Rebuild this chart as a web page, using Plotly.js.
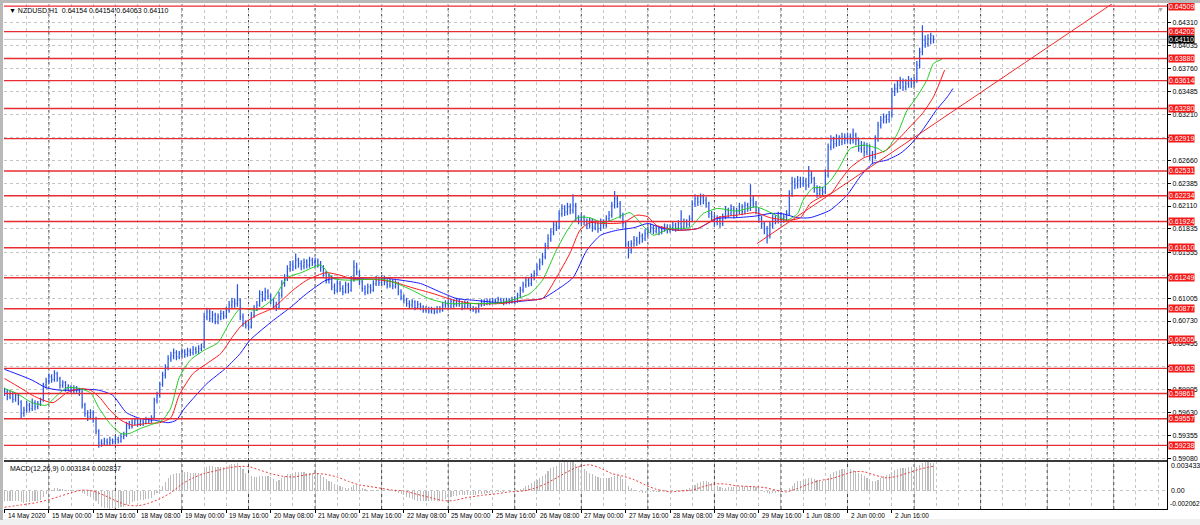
<!DOCTYPE html>
<html><head><meta charset="utf-8">
<script src="https://cdn.plot.ly/plotly-3.0.1.min.js"></script>
<style>
html,body{margin:0;padding:0;background:#f0f0f0;width:1200px;height:525px;overflow:hidden}
#fTop{position:absolute;left:0;top:0;width:1200px;height:3px;background:#b9b9b9}
#fLeft{position:absolute;left:0;top:0;width:3px;height:520px;background:#b9b9b9}
#chart{position:absolute;left:3px;top:3px;width:1197px;height:516px}
</style></head>
<body><div id="fTop"></div><div id="fLeft"></div><div id="chart"></div>
<script>
// ---------- DATA ----------
const symbolName = "NZDUSD,H1";
const timeLabels = ["14 May 2020","15 May 00:00","15 May 16:00","18 May 08:00","19 May 00:00","19 May 16:00","20 May 08:00","21 May 00:00","21 May 16:00","22 May 08:00","25 May 00:00","25 May 16:00","26 May 08:00","27 May 00:00","27 May 16:00","28 May 08:00","29 May 00:00","29 May 16:00","1 Jun 08:00","2 Jun 00:00","2 Jun 16:00"];
const timeLabelBars = [0,16,32,48,64,80,96,112,128,144,160,176,192,208,224,240,256,272,288,304,320];
const dayStartBars = [16,40,64,88,112,136,160,184,208,232,256,280,304,328,352,376,400];

const opens = [0.5990,0.5988,0.5982,0.5986,0.5979,0.5984,0.5976,0.5962,0.5966,0.5972,
0.5968,0.5975,0.5970,0.5974,0.5978,0.5996,0.6001,0.6006,0.6003,0.6010,
0.6004,0.5996,0.5999,0.5992,0.5994,0.5989,0.5993,0.5990,0.5988,0.5972,
0.5962,0.5958,0.5963,0.5956,0.5941,0.5927,0.5926,0.5929,0.5927,0.5930,
0.5928,0.5931,0.5929,0.5934,0.5936,0.5948,0.5946,0.5951,0.5954,0.5950,
0.5953,0.5951,0.5955,0.5953,0.5957,0.5978,0.5984,0.5997,0.6008,0.6017,
0.6028,0.6031,0.6035,0.6030,0.6034,0.6036,0.6033,0.6037,0.6035,0.6039,
0.6036,0.6040,0.6042,0.6078,0.6084,0.6076,0.6080,0.6072,0.6078,0.6082,
0.6079,0.6086,0.6092,0.6096,0.6094,0.6098,0.6078,0.6070,0.6068,0.6066,
0.6080,0.6088,0.6092,0.6105,0.6100,0.6108,0.6103,0.6098,0.6092,0.6089,
0.6104,0.6118,0.6124,0.6136,0.6140,0.6138,0.6146,0.6142,0.6139,0.6144,
0.6140,0.6146,0.6143,0.6145,0.6141,0.6137,0.6130,0.6122,0.6126,0.6114,
0.6110,0.6118,0.6112,0.6108,0.6116,0.6110,0.6122,0.6138,0.6132,0.6120,
0.6112,0.6108,0.6114,0.6110,0.6118,0.6122,0.6119,0.6124,0.6120,0.6116,
0.6121,0.6115,0.6118,0.6108,0.6102,0.6098,0.6094,0.6092,0.6096,0.6089,
0.6093,0.6090,0.6086,0.6088,0.6085,0.6087,0.6084,0.6088,0.6086,0.6092,
0.6094,0.6091,0.6096,0.6093,0.6098,0.6094,0.6090,0.6095,0.6092,0.6088,
0.6087,0.6085,0.6092,0.6096,0.6094,0.6097,0.6095,0.6098,0.6096,0.6099,
0.6097,0.6095,0.6098,0.6096,0.6099,0.6097,0.6104,0.6110,0.6116,0.6122,
0.6118,0.6126,0.6130,0.6138,0.6144,0.6150,0.6163,0.6172,0.6180,0.6188,
0.6186,0.6202,0.6208,0.6204,0.6210,0.6206,0.6212,0.6196,0.6193,0.6197,
0.6192,0.6188,0.6194,0.6186,0.6190,0.6184,0.6192,0.6188,0.6196,0.6200,
0.6212,0.6220,0.6214,0.6200,0.6190,0.6165,0.6158,0.6166,0.6170,0.6168,
0.6175,0.6172,0.6178,0.6182,0.6185,0.6181,0.6184,0.6180,0.6183,0.6186,
0.6182,0.6185,0.6188,0.6184,0.6190,0.6186,0.6192,0.6189,0.6196,0.6214,
0.6220,0.6216,0.6222,0.6218,0.6214,0.6202,0.6198,0.6192,0.6196,0.6190,
0.6198,0.6206,0.6202,0.6208,0.6200,0.6205,0.6210,0.6204,0.6212,0.6208,
0.6218,0.6214,0.6206,0.6196,0.6190,0.6184,0.6176,0.6188,0.6196,0.6194,
0.6199,0.6195,0.6198,0.6202,0.6226,0.6240,0.6236,0.6242,0.6238,0.6241,
0.6236,0.6248,0.6244,0.6232,0.6226,0.6230,0.6228,0.6248,0.6282,0.6290,
0.6286,0.6292,0.6288,0.6294,0.6290,0.6294,0.6290,0.6296,0.6290,0.6280,
0.6284,0.6276,0.6282,0.6272,0.6270,0.6292,0.6308,0.6314,0.6318,0.6315,
0.6320,0.6348,0.6352,0.6356,0.6360,0.6354,0.6358,0.6362,0.6358,0.6362,
0.6380,0.6396,0.6410,0.6406,0.6412,0.64154];

const highs = [0.5993,0.5991,0.5990,0.5988,0.5987,0.5986,0.5978,0.5970,0.5977,0.5975,
0.5980,0.5978,0.5977,0.5981,0.5999,0.6005,0.6010,0.6009,0.6014,0.6012,
0.6006,0.6002,0.6001,0.5997,0.5996,0.5996,0.5995,0.5993,0.5990,0.5975,
0.5966,0.5967,0.5966,0.5958,0.5943,0.5931,0.5933,0.5932,0.5934,0.5932,
0.5935,0.5934,0.5938,0.5940,0.5952,0.5953,0.5955,0.5957,0.5956,0.5956,
0.5955,0.5958,0.5957,0.5960,0.5981,0.5988,0.6000,0.6012,0.6021,0.6032,
0.6036,0.6040,0.6038,0.6037,0.6040,0.6039,0.6041,0.6040,0.6043,0.6042,
0.6044,0.6046,0.6083,0.6089,0.6087,0.6085,0.6083,0.6082,0.6086,0.6085,
0.6090,0.6097,0.6101,0.6100,0.6117,0.6100,0.6082,0.6074,0.6072,0.6084,
0.6092,0.6097,0.6110,0.6109,0.6113,0.6111,0.6106,0.6101,0.6096,0.6108,
0.6122,0.6129,0.6140,0.6145,0.6146,0.6154,0.6149,0.6146,0.6148,0.6147,
0.6150,0.6149,0.6149,0.6148,0.6145,0.6140,0.6133,0.6130,0.6128,0.6118,
0.6122,0.6121,0.6116,0.6120,0.6119,0.6127,0.6146,0.6143,0.6134,0.6123,
0.6116,0.6118,0.6117,0.6122,0.6127,0.6126,0.6128,0.6127,0.6123,0.6125,
0.6123,0.6122,0.6120,0.6111,0.6105,0.6101,0.6098,0.6099,0.6098,0.6097,
0.6095,0.6092,0.6091,0.6090,0.6090,0.6089,0.6091,0.6091,0.6096,0.6098,
0.6099,0.6100,0.6099,0.6101,0.6100,0.6097,0.6098,0.6097,0.6094,0.6091,
0.6090,0.6095,0.6099,0.6099,0.6100,0.6100,0.6101,0.6100,0.6102,0.6101,
0.6100,0.6101,0.6100,0.6102,0.6102,0.6107,0.6114,0.6120,0.6126,0.6125,
0.6130,0.6134,0.6142,0.6148,0.6155,0.6167,0.6177,0.6184,0.6192,0.6193,
0.6206,0.6213,0.6212,0.6215,0.6214,0.6225,0.6215,0.6200,0.6201,0.6200,
0.6196,0.6197,0.6196,0.6194,0.6193,0.6196,0.6195,0.6200,0.6205,0.6216,
0.6229,0.6224,0.6217,0.6203,0.6192,0.6169,0.6170,0.6175,0.6174,0.6180,
0.6178,0.6183,0.6186,0.6190,0.6188,0.6188,0.6187,0.6187,0.6190,0.6189,
0.6189,0.6192,0.6191,0.6194,0.6206,0.6196,0.6195,0.6200,0.6218,0.6225,
0.6224,0.6226,0.6225,0.6222,0.6216,0.6205,0.6201,0.6200,0.6199,0.6202,
0.6211,0.6209,0.6213,0.6211,0.6209,0.6215,0.6213,0.6216,0.6215,0.6237,
0.6224,0.6217,0.6209,0.6199,0.6193,0.6187,0.6192,0.6201,0.6200,0.6204,
0.6203,0.6202,0.6206,0.6230,0.6246,0.6245,0.6247,0.6246,0.6246,0.6245,
0.6259,0.6253,0.6246,0.6236,0.6235,0.6234,0.6255,0.6286,0.6296,0.6294,
0.6297,0.6296,0.6299,0.6298,0.6299,0.6298,0.6304,0.6299,0.6293,0.6289,
0.6288,0.6287,0.6285,0.6277,0.6296,0.6312,0.6319,0.6322,0.6321,0.6325,
0.6353,0.6358,0.6362,0.6366,0.6364,0.6363,0.6367,0.6365,0.6366,0.6385,
0.6401,0.6428,0.6416,0.6417,0.6419,0.64154];

const lows = [0.5983,0.5978,0.5979,0.5975,0.5976,0.5972,0.5956,0.5958,0.5963,0.5964,
0.5965,0.5966,0.5967,0.5971,0.5976,0.5992,0.5997,0.5999,0.6000,0.6000,
0.5992,0.5993,0.5988,0.5989,0.5986,0.5986,0.5987,0.5983,0.5968,0.5958,
0.5953,0.5955,0.5951,0.5937,0.5921,0.5922,0.5923,0.5924,0.5924,0.5925,
0.5925,0.5926,0.5927,0.5931,0.5934,0.5943,0.5944,0.5948,0.5946,0.5947,
0.5947,0.5949,0.5950,0.5951,0.5955,0.5974,0.5981,0.5994,0.6004,0.6014,
0.6024,0.6027,0.6026,0.6027,0.6030,0.6029,0.6030,0.6031,0.6032,0.6033,
0.6033,0.6037,0.6040,0.6074,0.6072,0.6071,0.6069,0.6069,0.6074,0.6075,
0.6076,0.6083,0.6088,0.6089,0.6090,0.6074,0.6066,0.6064,0.6062,0.6064,
0.6077,0.6085,0.6090,0.6096,0.6097,0.6099,0.6093,0.6087,0.6085,0.6087,
0.6101,0.6114,0.6121,0.6132,0.6133,0.6135,0.6137,0.6134,0.6135,0.6136,
0.6137,0.6139,0.6138,0.6137,0.6132,0.6126,0.6118,0.6118,0.6110,0.6105,
0.6107,0.6108,0.6104,0.6106,0.6106,0.6108,0.6120,0.6128,0.6116,0.6108,
0.6104,0.6105,0.6106,0.6108,0.6115,0.6115,0.6116,0.6116,0.6112,0.6113,
0.6111,0.6112,0.6104,0.6098,0.6094,0.6090,0.6088,0.6089,0.6086,0.6087,
0.6086,0.6083,0.6083,0.6082,0.6082,0.6081,0.6082,0.6083,0.6084,0.6089,
0.6087,0.6088,0.6089,0.6090,0.6090,0.6086,0.6087,0.6088,0.6085,0.6084,
0.6082,0.6083,0.6090,0.6091,0.6092,0.6092,0.6093,0.6093,0.6094,0.6094,
0.6092,0.6093,0.6093,0.6094,0.6094,0.6095,0.6101,0.6107,0.6113,0.6114,
0.6115,0.6122,0.6127,0.6134,0.6140,0.6147,0.6159,0.6168,0.6176,0.6181,
0.6183,0.6198,0.6199,0.6200,0.6201,0.6202,0.6192,0.6189,0.6189,0.6188,
0.6183,0.6184,0.6180,0.6182,0.6179,0.6181,0.6184,0.6185,0.6192,0.6197,
0.6208,0.6209,0.6196,0.6185,0.6160,0.6148,0.6154,0.6162,0.6163,0.6165,
0.6167,0.6169,0.6175,0.6179,0.6177,0.6178,0.6176,0.6177,0.6180,0.6178,
0.6179,0.6181,0.6180,0.6181,0.6182,0.6183,0.6185,0.6186,0.6193,0.6210,
0.6211,0.6212,0.6213,0.6209,0.6197,0.6193,0.6186,0.6188,0.6185,0.6187,
0.6195,0.6197,0.6199,0.6196,0.6197,0.6201,0.6200,0.6201,0.6204,0.6205,
0.6209,0.6201,0.6191,0.6184,0.6177,0.6166,0.6172,0.6184,0.6189,0.6190,
0.6190,0.6191,0.6193,0.6199,0.6222,0.6231,0.6232,0.6233,0.6234,0.6230,
0.6233,0.6238,0.6227,0.6221,0.6222,0.6223,0.6225,0.6245,0.6278,0.6280,
0.6282,0.6283,0.6284,0.6285,0.6286,0.6285,0.6286,0.6284,0.6276,0.6275,
0.6270,0.6272,0.6266,0.6261,0.6267,0.6288,0.6304,0.6310,0.6310,0.6311,
0.6317,0.6343,0.6347,0.6351,0.6349,0.6350,0.6353,0.6353,0.6354,0.6359,
0.6376,0.6392,0.6401,0.6402,0.6405,0.64063];

const closes = [0.5988,0.5982,0.5986,0.5979,0.5984,0.5976,0.5962,0.5966,0.5972,0.5968,
0.5975,0.5970,0.5974,0.5978,0.5996,0.6001,0.6006,0.6003,0.6010,0.6004,
0.5996,0.5999,0.5992,0.5994,0.5989,0.5993,0.5990,0.5988,0.5972,0.5962,
0.5958,0.5963,0.5956,0.5941,0.5927,0.5926,0.5929,0.5927,0.5930,0.5928,
0.5931,0.5929,0.5934,0.5936,0.5948,0.5946,0.5951,0.5954,0.5950,0.5953,
0.5951,0.5955,0.5953,0.5957,0.5978,0.5984,0.5997,0.6008,0.6017,0.6028,
0.6031,0.6035,0.6030,0.6034,0.6036,0.6033,0.6037,0.6035,0.6039,0.6036,
0.6040,0.6042,0.6078,0.6084,0.6076,0.6080,0.6072,0.6078,0.6082,0.6079,
0.6086,0.6092,0.6096,0.6094,0.6098,0.6078,0.6070,0.6068,0.6066,0.6080,
0.6088,0.6092,0.6105,0.6100,0.6108,0.6103,0.6098,0.6092,0.6089,0.6104,
0.6118,0.6124,0.6136,0.6140,0.6138,0.6146,0.6142,0.6139,0.6144,0.6140,
0.6146,0.6143,0.6145,0.6141,0.6137,0.6130,0.6122,0.6126,0.6114,0.6110,
0.6118,0.6112,0.6108,0.6116,0.6110,0.6122,0.6138,0.6132,0.6120,0.6112,
0.6108,0.6114,0.6110,0.6118,0.6122,0.6119,0.6124,0.6120,0.6116,0.6121,
0.6115,0.6118,0.6108,0.6102,0.6098,0.6094,0.6092,0.6096,0.6089,0.6093,
0.6090,0.6086,0.6088,0.6085,0.6087,0.6084,0.6088,0.6086,0.6092,0.6094,
0.6091,0.6096,0.6093,0.6098,0.6094,0.6090,0.6095,0.6092,0.6088,0.6087,
0.6085,0.6092,0.6096,0.6094,0.6097,0.6095,0.6098,0.6096,0.6099,0.6097,
0.6095,0.6098,0.6096,0.6099,0.6097,0.6104,0.6110,0.6116,0.6122,0.6118,
0.6126,0.6130,0.6138,0.6144,0.6150,0.6163,0.6172,0.6180,0.6188,0.6186,
0.6202,0.6208,0.6204,0.6210,0.6206,0.6212,0.6196,0.6193,0.6197,0.6192,
0.6188,0.6194,0.6186,0.6190,0.6184,0.6192,0.6188,0.6196,0.6200,0.6212,
0.6220,0.6214,0.6200,0.6190,0.6165,0.6158,0.6166,0.6170,0.6168,0.6175,
0.6172,0.6178,0.6182,0.6185,0.6181,0.6184,0.6180,0.6183,0.6186,0.6182,
0.6185,0.6188,0.6184,0.6190,0.6186,0.6192,0.6189,0.6196,0.6214,0.6220,
0.6216,0.6222,0.6218,0.6214,0.6202,0.6198,0.6192,0.6196,0.6190,0.6198,
0.6206,0.6202,0.6208,0.6200,0.6205,0.6210,0.6204,0.6212,0.6208,0.6218,
0.6214,0.6206,0.6196,0.6190,0.6184,0.6176,0.6188,0.6196,0.6194,0.6199,
0.6195,0.6198,0.6202,0.6226,0.6240,0.6236,0.6242,0.6238,0.6241,0.6236,
0.6248,0.6244,0.6232,0.6226,0.6230,0.6228,0.6248,0.6282,0.6290,0.6286,
0.6292,0.6288,0.6294,0.6290,0.6294,0.6290,0.6296,0.6290,0.6280,0.6284,
0.6276,0.6282,0.6272,0.6270,0.6292,0.6308,0.6314,0.6318,0.6315,0.6320,
0.6348,0.6352,0.6356,0.6360,0.6354,0.6358,0.6362,0.6358,0.6362,0.6380,
0.6396,0.6410,0.6406,0.6412,0.64154,0.64110];

// Alligator (jaw = blue, teeth = red, lips = green), read at sample bars
const jawBars = [0,5.6,10,15,20,25,30,34,39,44,49,54,59,62,64.4,68,73,80,85,88.5,97,103,109,116,121,127,135,143,150,157,163,169,179,187,194,199,205,210,215,221,227,232,237.5,243.6,250,257,264,271,276,280,286,290.5,297.7,303.8,308.5,313,318,323,326.5,331,336,340,342];
const jawVals = [0.6015,0.6008,0.6002,0.5993,0.5990,0.5990,0.5991,0.5990,0.5984,0.5963,0.5956,0.5954,0.5951,0.5954,0.5966,0.5980,0.5998,0.6017,0.6034,0.6050,0.6074,0.6089,0.6106,0.6122,0.6125,0.6124,0.6125,0.6122,0.6118,0.6108,0.6100,0.6098,0.6095,0.6097,0.6100,0.6110,0.6125,0.6158,0.6176,0.6182,0.6185,0.6190,0.6184,0.6182,0.6184,0.6196,0.6197,0.6199,0.6202,0.6202,0.6197,0.6197,0.6206,0.6224,0.6246,0.6262,0.6266,0.6274,0.6284,0.6302,0.6326,0.6342,0.6352];
const teethBars = [0,5.6,10,14,17.5,22.5,27,31,34.4,38,42,46,51,56,60,63,68,73,78,82,85,88,91,97,104,109,116,121,126,133,140,147,154.5,162,169,179,187,194,199,204,207.5,211,216,223,228,232,235,242.5,250,257,264,271,276,283,287,290.5,294,298,301,305,310,315,318,322,326.5,331,335,339];
const teethVals = [0.6004,0.5993,0.5984,0.5978,0.5975,0.5987,0.5992,0.5990,0.5981,0.5966,0.5954,0.5948,0.5950,0.5951,0.5957,0.5984,0.6010,0.6022,0.6034,0.6053,0.6066,0.6074,0.6080,0.6089,0.6110,0.6122,0.6131,0.6128,0.6123,0.6123,0.6120,0.6113,0.6106,0.6098,0.6094,0.6094,0.6098,0.6100,0.6125,0.6155,0.6182,0.6191,0.6190,0.6191,0.6200,0.6198,0.6188,0.6182,0.6184,0.6197,0.6200,0.6203,0.6197,0.6194,0.6197,0.6214,0.6221,0.6226,0.6240,0.6257,0.6269,0.6274,0.6278,0.6290,0.6306,0.6322,0.6342,0.6374];
const lipsBars = [0,4.5,10,15,19,22.5,27,31,34,38,42,45,49,54,57,60,63,67,72,77,81,85,91,97,102,107,114,118.5,125,131,136.5,141.5,147,153,160,167,174,179,185,189.5,194,199,203,206.5,211,216,221,225.6,230,234,240,247,252,257,264,271,277,282,286,288,291.6,295,298,301,305,310,315,317,319,322,325.5,329,332.6,335,338];
const lipsVals = [0.5992,0.5986,0.5975,0.5972,0.5984,0.5993,0.5992,0.5987,0.5969,0.5950,0.5938,0.5938,0.5944,0.5950,0.5954,0.5969,0.6005,0.6026,0.6038,0.6047,0.6070,0.6088,0.6086,0.6100,0.6125,0.6131,0.6140,0.6124,0.6122,0.6123,0.6123,0.6118,0.6110,0.6100,0.6094,0.6094,0.6094,0.6095,0.6100,0.6106,0.6122,0.6158,0.6182,0.6197,0.6197,0.6191,0.6197,0.6203,0.6188,0.6176,0.6184,0.6185,0.6202,0.6208,0.6205,0.6210,0.6202,0.6194,0.6202,0.6218,0.6233,0.6233,0.6242,0.6257,0.6280,0.6284,0.6280,0.6276,0.6282,0.6298,0.6326,0.6342,0.6362,0.6382,0.6387];

// MACD(12,26,9): main per bar (histogram), signal read at sample bars
const macdMain = [-0.0012,-0.0011,-0.0011,-0.0012,-0.0011,-0.0011,-0.0013,-0.0014,-0.0013,-0.0013,-0.0012,-0.0012,-0.0011,-0.0010,-0.0007,-0.0004,
-0.0001,0.0001,0.0003,0.0003,0.0002,0.0002,0.0001,0.0001,0.0001,0.0001,0.0000,0.0000,-0.0002,-0.0004,-0.0006,-0.0007,
-0.0008,-0.0011,-0.0015,-0.0018,-0.0019,-0.0020,-0.00206,-0.0020,-0.0020,-0.0019,-0.0018,-0.0018,-0.0016,-0.0015,-0.0013,-0.0012,
-0.0011,-0.0010,-0.0010,-0.0009,-0.0009,-0.0008,-0.0005,-0.0002,0.0002,0.0006,0.0010,0.0015,0.0018,0.0020,0.0021,0.0021,
0.0022,0.0022,0.0022,0.0021,0.0021,0.0021,0.0021,0.0021,0.0025,0.0028,0.0029,0.0029,0.0028,0.0028,0.0028,0.0028,
0.0029,0.0030,0.0031,0.0031,0.0032,0.0029,0.0025,0.0021,0.0018,0.0017,0.0016,0.0016,0.0017,0.0017,0.0017,0.0017,
0.0016,0.0014,0.0012,0.0013,0.0015,0.0017,0.0019,0.0020,0.0021,0.0022,0.0022,0.0022,0.0022,0.0021,0.0021,0.0021,
0.0020,0.0019,0.0018,0.0016,0.0014,0.0012,0.0010,0.0008,0.0007,0.0006,0.0005,0.0004,0.0004,0.0005,0.0007,0.0007,
0.0005,0.0003,0.0002,0.0001,0.0001,0.0001,0.0001,0.0001,0.0001,0.0001,0.0000,0.0000,0.0000,-0.0001,-0.0002,-0.0003,
-0.0005,-0.0007,-0.0008,-0.0009,-0.0010,-0.0011,-0.0011,-0.0012,-0.0012,-0.0012,-0.0012,-0.0012,-0.0012,-0.0011,-0.0010,-0.0009,
-0.0008,-0.0007,-0.0006,-0.0006,-0.0005,-0.0005,-0.0005,-0.0005,-0.0005,-0.0005,-0.0005,-0.0004,-0.0003,-0.0003,-0.0002,-0.0002,
-0.0001,-0.0001,-0.0001,-0.0001,-0.0001,0.0000,0.0000,0.0000,0.0000,0.0001,0.0002,0.0004,0.0006,0.0007,0.0009,0.0011,
0.0013,0.0015,0.0017,0.0020,0.0023,0.0026,0.0028,0.0029,0.0031,0.0032,0.0033,0.0033,0.00343,0.0034,0.0031,0.0029,
0.0027,0.0025,0.0023,0.0021,0.0019,0.0017,0.0016,0.0015,0.0015,0.0015,0.0015,0.0016,0.0017,0.0018,0.0017,0.0014,
0.0010,0.0006,0.0003,0.0001,0.0000,-0.0001,-0.0002,-0.0002,-0.0002,-0.0001,-0.0001,-0.0001,-0.0001,0.0000,0.0000,0.0000,
0.0000,0.0000,0.0000,0.0001,0.0001,0.0001,0.0002,0.0003,0.0005,0.0007,0.0009,0.0010,0.0011,0.0011,0.0010,0.0009,
0.0007,0.0006,0.0005,0.0004,0.0004,0.0005,0.0005,0.0005,0.0005,0.0006,0.0006,0.0006,0.0006,0.0006,0.0006,0.0005,
0.0003,0.0001,-0.0001,-0.0002,-0.0003,-0.0002,-0.0002,-0.0001,-0.0001,0.0000,0.0001,0.0003,0.0006,0.0009,0.0011,0.0012,
0.0013,0.0014,0.0015,0.0015,0.0014,0.0013,0.0012,0.0012,0.0013,0.0015,0.0019,0.0022,0.0023,0.0024,0.0025,0.0025,
0.0025,0.0025,0.0024,0.0023,0.0021,0.0019,0.0017,0.0015,0.0013,0.0011,0.0011,0.0013,0.0015,0.0017,0.0018,0.0019,
0.0022,0.0024,0.0025,0.0026,0.0026,0.0026,0.0027,0.0027,0.0027,0.0028,0.0030,0.0032,0.0033,0.0033,0.0032,0.003184];
const signalBars = [0,6,12,16,20,24,28,32,36,40,44,48,52,56,60,64,68,72,76,80,84,88,92,96,100,104,108,112,116,120,124,128,132,136,140,144,149,154,158,162,166,172,178,182,187,191,195,199,203,207,211,215,219,223,227,231,235,240,244,248,252,256,260,264,270,274,278,282,286,290,294,298,302,306,310,314,318,322,326,330,335];
const signalVals = [-0.00186,-0.0016,-0.0013,-0.0010,-0.0006,-0.0002,0.0001,0.0000,-0.0005,-0.0011,
-0.0016,-0.0017,-0.0014,-0.0009,-0.0002,0.0008,0.0015,0.0020,0.0023,0.0026,
0.0028,0.0028,0.0024,0.0020,0.0017,0.0016,0.0018,0.0020,0.0019,0.0016,
0.0011,0.0007,0.0005,0.0003,0.0001,0.0000,-0.0004,-0.0008,-0.0011,-0.0011,
-0.0008,-0.0005,-0.0003,-0.0001,0.0000,0.0003,0.0008,0.0015,0.0022,0.0028,
0.0030,0.0026,0.0020,0.0017,0.0013,0.0007,0.0002,-0.0001,0.0000,0.0001,
0.0005,0.0008,0.0008,0.0006,0.0005,0.0004,0.0001,-0.0001,0.0003,0.0008,
0.0012,0.0014,0.0018,0.0022,0.0022,0.0018,0.0015,0.0017,0.0021,0.0025,
0.002837];
const macdMax = 0.003433, macdMin = -0.002062;

// Horizontal levels drawn on the chart, price scale ticks, trend line
const levelPrices = [0.64509,0.64202,0.63880,0.63614,0.63280,0.62919,0.62531,0.62234,0.61924,0.61610,0.61249,0.60877,0.60505,0.60162,0.59861,0.59557,0.59238];
const priceTicks = [0.64310,0.64035,0.63760,0.63485,0.63210,0.62935,0.62660,0.62385,0.62110,0.61835,0.61555,0.61280,0.61005,0.60730,0.60455,0.60180,0.59905,0.59630,0.59355,0.59080];
const trendBars = [271.4, 400];
const trendPrices = [0.6166, 0.6455];

// ---------- CHART ----------
const n = closes.length;
const barIdx = closes.map((_, i) => i);
const last = n - 1;
const red = 'rgb(232,44,52)';
const gridCol = '#c4c4c4';
const splitY = 0.095; // boundary between price pane and MACD pane

const traces = [
  {type:'bar', x:barIdx, y:macdMain, xaxis:'x', yaxis:'y2', width:0.4,
   marker:{color:'#bdbdbd', line:{width:0}}, hoverinfo:'skip'},
  {type:'scatter', mode:'lines', x:signalBars, y:signalVals, xaxis:'x', yaxis:'y2',
   line:{color:'rgb(235,60,60)', width:1, dash:'2px,2px', shape:'spline', smoothing:0.6}, hoverinfo:'skip'},
  {type:'ohlc', x:barIdx, open:opens, high:highs, low:lows, close:closes, xaxis:'x', yaxis:'y',
   tickwidth:0.3, increasing:{line:{color:'#2a56e6', width:1.25}}, decreasing:{line:{color:'#2a56e6', width:1.25}}, hoverinfo:'skip'},
  {type:'scatter', mode:'lines', x:jawBars, y:jawVals, xaxis:'x', yaxis:'y',
   line:{color:'#1a1aff', width:1, shape:'spline', smoothing:0.6}, hoverinfo:'skip'},
  {type:'scatter', mode:'lines', x:teethBars, y:teethVals, xaxis:'x', yaxis:'y',
   line:{color:'#ff1a1a', width:1, shape:'spline', smoothing:0.6}, hoverinfo:'skip'},
  {type:'scatter', mode:'lines', x:lipsBars, y:lipsVals, xaxis:'x', yaxis:'y',
   line:{color:'#22cc22', width:1, shape:'spline', smoothing:0.6}, hoverinfo:'skip'},
  {type:'scatter', mode:'lines', x:trendBars, y:trendPrices, xaxis:'x', yaxis:'y',
   line:{color:'rgb(240,40,40)', width:1}, hoverinfo:'skip'}
];

const shapes = [];
shapes.push({type:'line', xref:'paper', x0:0, x1:1, yref:'y', y0:closes[last], y1:closes[last],
  line:{color:'#c8c8c8', width:1}, layer:'below'});
dayStartBars.forEach(d => shapes.push({type:'line', xref:'x', x0:d, x1:d, yref:'paper', y0:0, y1:1,
  line:{color:'#404040', width:1, dash:'3px,3px'}, layer:'below'}));
levelPrices.forEach(p => shapes.push({type:'line', xref:'paper', x0:0, x1:1, yref:'y', y0:p, y1:p,
  line:{color:red, width:1.4}, layer:'above'}));
shapes.push({type:'line', xref:'paper', x0:0, x1:1, yref:'paper', y0:splitY, y1:splitY, line:{color:'#3a3a3a', width:2}});

// tick labels that sit right under a level label are covered (as on the terminal)
const tickText = priceTicks.map(t => levelPrices.some(l => Math.abs(l - t) < 0.0004) ? '' : t.toFixed(5));

const annotations = [];
levelPrices.forEach(p => annotations.push({xref:'paper', x:1, xanchor:'left', xshift:1, yref:'y', y:p,
  text:p.toFixed(5), showarrow:false, bgcolor:'#f41818', borderpad:0, font:{color:'#ffffff', size:7}}));
annotations.push({xref:'paper', x:1, xanchor:'left', xshift:1, yref:'y', y:closes[last],
  text:closes[last].toFixed(5), showarrow:false, bgcolor:'#000000', borderpad:0, font:{color:'#ffffff', size:7}});
timeLabelBars.forEach((b, k) => annotations.push({xref:'x', x:b, xanchor:'left', xshift:1,
  yref:'paper', y:0, yanchor:'top', yshift:-1, text:timeLabels[k], showarrow:false, font:{size:6.5, color:'#000'}}));
annotations.push({xref:'paper', x:0, xanchor:'left', xshift:3, yref:'paper', y:1, yanchor:'top', yshift:-1,
  text:'\u25BC\u00a0' + symbolName + '\u00a0\u00a0' + [opens[last], highs[last], lows[last], closes[last]].map(v => v.toFixed(5)).join('\u00a0'),
  showarrow:false, font:{size:7, color:'#000'}});
annotations.push({xref:'paper', x:0, xanchor:'left', xshift:4, yref:'paper', y:splitY, yanchor:'top', yshift:-2,
  text:'MACD(12,26,9)\u00a0' + macdMain[last].toFixed(6) + '\u00a0' + signalVals[signalVals.length-1].toFixed(6),
  showarrow:false, font:{size:7, color:'#000'}});
annotations.push({xref:'paper', x:1, xanchor:'left', xshift:2, yref:'y2', y:macdMax, yanchor:'top', yshift:1,
  text:macdMax.toFixed(6), showarrow:false, font:{size:7, color:'#000'}});
annotations.push({xref:'paper', x:1, xanchor:'left', xshift:2, yref:'y2', y:0,
  text:'0.00', showarrow:false, font:{size:7, color:'#000'}});
annotations.push({xref:'paper', x:1, xanchor:'left', xshift:1, yref:'y2', y:macdMin, yanchor:'middle', yshift:5,
  text:macdMin.toFixed(6), showarrow:false, font:{size:6.6, color:'#000'}});
annotations.push({xref:'paper', x:1, xanchor:'right', xshift:-1, yref:'paper', y:1, yanchor:'top',
  text:'\u25BC', showarrow:false, font:{size:7, color:'#a8a8a8'}});

const layout = {
  width:1197, height:516,
  margin:{l:1, r:33, t:1, b:10},
  paper_bgcolor:'#ffffff', plot_bgcolor:'#ffffff',
  showlegend:false,
  font:{family:'Liberation Sans, Arial, sans-serif', size:7, color:'#000'},
  bargap:0,
  xaxis:{range:[-0.18, 419.2], anchor:'y2', tickmode:'array', tickvals:timeLabelBars, showticklabels:false,
    ticks:'outside', ticklen:3, tickcolor:'#000',
    showgrid:true, gridcolor:gridCol, griddash:'3px,3px', gridwidth:1,
    minor:{dtick:8, tick0:0, showgrid:true, gridcolor:gridCol, griddash:'3px,3px', ticks:''},
    showline:true, linecolor:'#000', linewidth:1, zeroline:false, rangeslider:{visible:false}},
  yaxis:{domain:[splitY, 1], range:[0.59050, 0.64534], side:'right', anchor:'x',
    tickmode:'array', tickvals:priceTicks, ticktext:tickText,
    ticks:'outside', ticklen:3, tickcolor:'#000',
    showgrid:true, gridcolor:gridCol, griddash:'3px,3px', showline:true, linecolor:'#000', zeroline:false},
  yaxis2:{domain:[0, splitY], range:[macdMin, macdMax], side:'right', anchor:'x',
    tickmode:'array', tickvals:[0], showticklabels:false, ticks:'',
    showgrid:true, gridcolor:gridCol, griddash:'3px,3px', showline:true, linecolor:'#000', zeroline:false},
  shapes:shapes,
  annotations:annotations
};

Plotly.newPlot('chart', traces, layout, {staticPlot:true, displayModeBar:false});
</script>
</body></html>
